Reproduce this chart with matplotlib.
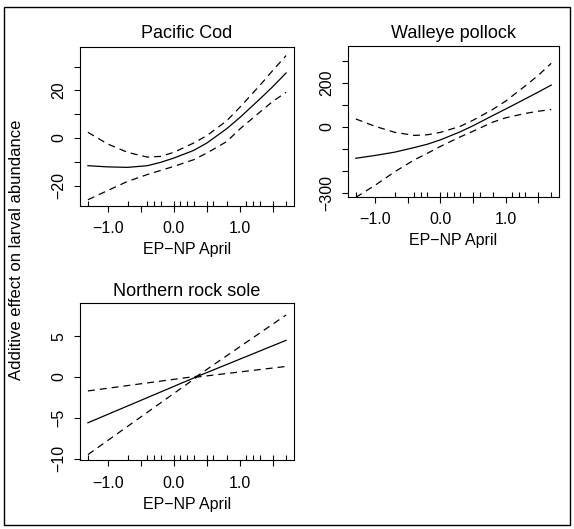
import numpy as np
import matplotlib.pyplot as plt
from matplotlib.patches import Rectangle

plt.rcParams['font.family'] = ['Liberation Sans', 'DejaVu Sans']
plt.rcParams['lines.scale_dashes'] = False

# Rug of observed EP-NP April values (same for all species)
rug_x = [-1.3, -0.7, -0.4, -0.3, -0.2, 0.0, 0.1, 0.2, 0.3, 0.5, 0.6, 0.8,
         1.1, 1.2, 1.3, 1.5, 1.7]

# Pacific cod smooth (fit +/- 2 se)
cod_x = [-1.3, -1.0, -0.7, -0.4, -0.2, 0.0, 0.3, 0.5, 0.8, 1.0, 1.3, 1.5, 1.7]
cod_fit = [-11.6, -12.1, -12.3, -11.6, -10.2, -8.4, -5.2, -2.1, 3.9, 8.6,
           16.3, 21.6, 27.3]
cod_upr = [2.4, -2.5, -6.0, -8.0, -7.7, -6.0, -2.1, 1.0, 7.2, 12.9, 22.0,
           28.4, 34.6]
cod_lwr = [-25.9, -22.0, -18.2, -15.3, -13.6, -11.9, -9.1, -6.3, -1.5, 3.8,
           10.8, 15.4, 19.2]

# Walleye pollock smooth
pol_x = [-1.3, -1.0, -0.7, -0.4, -0.2, 0.0, 0.3, 0.5, 0.8, 1.0, 1.3, 1.5, 1.7]
pol_fit = [-144, -131, -116, -95, -80, -60, -24, 4, 50, 80, 126, 157, 189]
pol_upr = [35, 1, -26, -40, -37, -26, 1, 29, 78, 116, 185, 233, 288]
pol_lwr = [-322, -266, -205, -151, -121, -90, -47, -21, 20, 40, 60, 70, 78]

# Northern rock sole (linear term)
nrs_x = [-1.3, 0.35, 1.7]
nrs_fit = [-5.6, 0.05, 4.5]
nrs_upr = [-1.7, 0.1, 7.6]
nrs_lwr = [-9.5, 0.0, 1.3]

W, H = 574, 529
fig = plt.figure(figsize=(W / 100, H / 100), dpi=100)


def px_axes(left, top, right, bottom):
  """ Add axes using pixel box (y measured from the top) """
  return fig.add_axes([left / W, 1 - bottom / H, (right - left) / W,
                       (bottom - top) / H])


def gam_panel(ax, x, fit, upr, lwr, title, ylim, yticks, ylabels, tpad):
  """ Draw one mgcv-style smooth panel """
  ax.plot(x, fit, color='black', lw=0.9)
  ax.plot(x, upr, color='black', lw=0.9, dashes=(5, 3.6))
  ax.plot(x, lwr, color='black', lw=0.9, dashes=(5, 3.6))
  ax.vlines(rug_x, 0, 0.03, transform=ax.get_xaxis_transform(),
            color='black', lw=0.8)
  ax.set_xlim(-1.42, 1.82)
  ax.set_ylim(*ylim)
  ax.set_xticks([-1.0, -0.5, 0.0, 0.5, 1.0, 1.5])
  ax.set_xticklabels(['\u22121.0', '', '0.0', '', '1.0', ''])
  ax.set_yticks(yticks)
  ax.set_yticklabels(ylabels, rotation=90, va='center')
  ax.tick_params(direction='out', length=4.5, width=0.8, labelsize=11.5,
                 colors='black')
  ax.tick_params(axis='x', pad=7)
  ax.tick_params(axis='y', pad=5.5)
  for sp in ax.spines.values():
    sp.set_linewidth(0.8)
  ax.set_xlabel('EP\u2212NP April', fontsize=11.5, labelpad=4)
  ax.set_title(title, fontsize=13, pad=tpad)


ax1 = px_axes(80, 47, 294, 205.5)
gam_panel(ax1, cod_x, cod_fit, cod_upr, cod_lwr, 'Pacific Cod',
          (-28.3, 38.2), [-20, -10, 0, 10, 20, 30],
          ['\u221220', '', '0', '', '20', ''], 6.5)

ax2 = px_axes(348, 46, 559, 196.5)
gam_panel(ax2, pol_x, pol_fit, pol_upr, pol_lwr, 'Walleye pollock',
          (-318, 367), [-300, -200, -100, 0, 100, 200, 300],
          ['\u2212300', '', '', '0', '', '200', ''], 6)

ax3 = px_axes(80, 303, 294, 460)
gam_panel(ax3, nrs_x, nrs_fit, nrs_upr, nrs_lwr, 'Northern rock sole',
          (-10.16, 9.07), [-10, -5, 0, 5],
          ['\u221210', '\u22125', '0', '5'], 5)

fig.text(17 / W, 1 - 250 / H, 'Additive effect on larval abundance',
         rotation=90, ha='center', va='center', fontsize=12)

# Outer frame
fig.patches.append(Rectangle((4 / W, 1 - 525 / H), 566 / W, 518 / H,
                             transform=fig.transFigure, fill=False,
                             edgecolor='black', lw=1.0))

fig.savefig('out.png', dpi=100)
